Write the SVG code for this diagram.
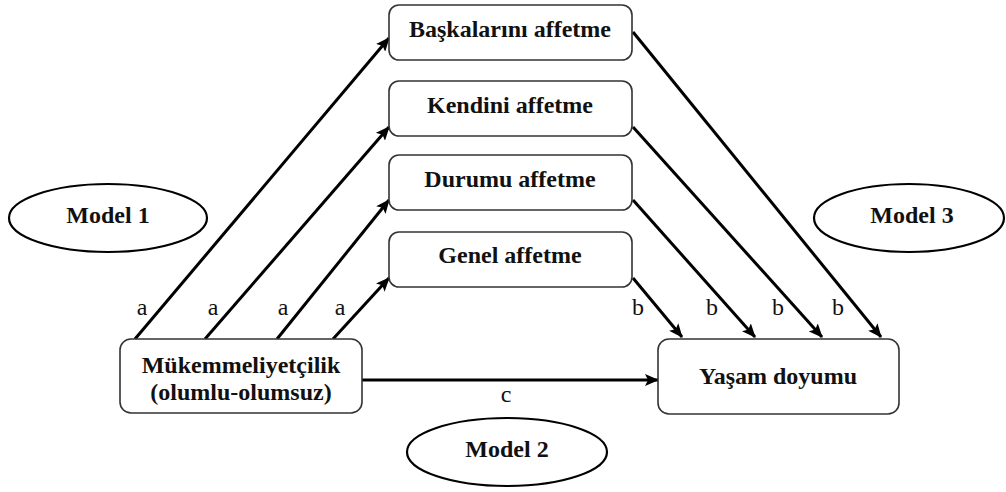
<svg xmlns="http://www.w3.org/2000/svg" width="1006" height="492" viewBox="0 0 1006 492">
<defs>
<style>
.box{fill:#fff;stroke:#333;stroke-width:1.6}
.ell{fill:#fff;stroke:#000;stroke-width:2.2}
text{font-family:'Liberation Serif','Times New Roman',Tinos,'DejaVu Serif',serif;fill:#111;text-anchor:middle;font-size:24px}
.t{font-weight:bold}
.c{stroke:#000;stroke-width:3;fill:none;marker-end:url(#ah)}
</style>
<marker id="ah" markerUnits="userSpaceOnUse" markerWidth="14" markerHeight="12" refX="13" refY="6" orient="auto">
<path d="M0,0 L14,6 L0,12 L3,6 z" fill="#000"/>
</marker>
</defs>
<rect width="1006" height="492" fill="#fff"/>
<g id="connectors">
<line class="c" x1="135" y1="339" x2="389" y2="38"/>
<line class="c" x1="205" y1="339" x2="389" y2="127"/>
<line class="c" x1="277" y1="339" x2="389" y2="200"/>
<line class="c" x1="333" y1="339" x2="389" y2="278"/>
<line class="c" x1="633" y1="32" x2="881" y2="337"/>
<line class="c" x1="633" y1="127" x2="822" y2="337"/>
<line class="c" x1="633" y1="200" x2="755" y2="337"/>
<line class="c" x1="633" y1="278" x2="682" y2="337"/>
<line class="c" x1="362" y1="380" x2="658" y2="380"/>
<text x="142" y="315">a</text>
<text x="213" y="315">a</text>
<text x="283" y="315">a</text>
<text x="340" y="315">a</text>
<text x="638" y="315">b</text>
<text x="712" y="315">b</text>
<text x="778" y="315">b</text>
<text x="838" y="315">b</text>
<text x="506" y="402">c</text>
</g>
<g id="baskalarini">
<rect class="box" x="389" y="5" width="243" height="55" rx="10"/>
<text class="t" x="510" y="37">Başkalarını affetme</text>
</g>
<g id="kendini">
<rect class="box" x="389" y="81" width="243" height="55" rx="10"/>
<text class="t" x="510" y="113">Kendini affetme</text>
</g>
<g id="durumu">
<rect class="box" x="389" y="155" width="243" height="55" rx="10"/>
<text class="t" x="510" y="187">Durumu affetme</text>
</g>
<g id="genel">
<rect class="box" x="389" y="232" width="243" height="55" rx="10"/>
<text class="t" x="510" y="263">Genel affetme</text>
</g>
<g id="mukemmeliyetcilik">
<rect class="box" x="120" y="339" width="242" height="74" rx="11"/>
<text class="t" x="241" y="373">Mükemmeliyetçilik</text>
<text class="t" x="241" y="400">(olumlu-olumsuz)</text>
</g>
<g id="yasam">
<rect class="box" x="658" y="339" width="241" height="75" rx="11"/>
<text class="t" x="778" y="384">Yaşam doyumu</text>
</g>
<g id="model1">
<ellipse class="ell" cx="108" cy="218" rx="99" ry="34"/>
<text class="t" x="108" y="223">Model 1</text>
</g>
<g id="model3">
<ellipse class="ell" cx="909" cy="218" rx="95" ry="34"/>
<text class="t" x="912" y="223">Model 3</text>
</g>
<g id="model2">
<ellipse class="ell" cx="507" cy="452" rx="100" ry="34"/>
<text class="t" x="507" y="457">Model 2</text>
</g>
</svg>
